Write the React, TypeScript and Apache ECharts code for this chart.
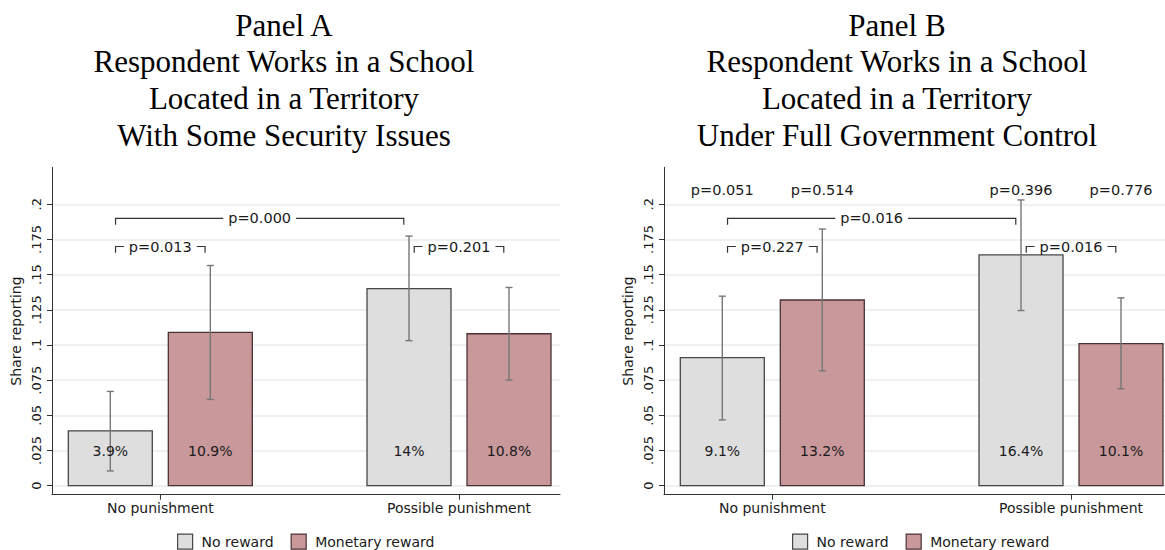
import React, { useEffect, useRef } from "react";
import * as echarts from "echarts";

// ---------- data ----------
const categories = ["No punishment", "Possible punishment"];
const seriesNames = ["No reward", "Monetary reward"];

const yTicks = [0, 0.025, 0.05, 0.075, 0.1, 0.125, 0.15, 0.175, 0.2];
const yTickLabels = ["0", ".025", ".05", ".075", ".1", ".125", ".15", ".175", ".2"];
const yAxisTitle = "Share reporting";

const panelATitle = ["Panel A", "Respondent Works in a School", "Located in a Territory", "With Some Security Issues"];
const panelBTitle = ["Panel B", "Respondent Works in a School", "Located in a Territory", "Under Full Government Control"];

// Panel A
const panelANoReward = [0.039, 0.14];
const panelAMonetary = [0.109, 0.108];
const panelANoRewardLow = [0.0105, 0.1031];
const panelANoRewardHigh = [0.067, 0.1774];
const panelAMonetaryLow = [0.0613, 0.0751];
const panelAMonetaryHigh = [0.1565, 0.1409];
const panelABracketLabels = ["p=0.000", "p=0.013", "p=0.201"];

// Panel B
const panelBNoReward = [0.091, 0.164];
const panelBMonetary = [0.132, 0.101];
const panelBNoRewardLow = [0.0468, 0.1245];
const panelBNoRewardHigh = [0.1347, 0.2031];
const panelBMonetaryLow = [0.0817, 0.0689];
const panelBMonetaryHigh = [0.1824, 0.1335];
const panelBBracketLabels = ["p=0.016", "p=0.227", "p=0.016"];
const panelBTopLabels = ["p=0.051", "p=0.514", "p=0.396", "p=0.776"];

// bracket structure (bar index = group*2 + series)
const bracketFrom = [0, 0, 2];
const bracketTo = [2, 1, 3];
const bracketLevels = [0.19, 0.17, 0.17];

// ---------- layout / style ----------
const FONT = '"DejaVu Sans", sans-serif';
const SERIF = '"Liberation Serif", serif';
const X_MIN = 0.6374;
const X_MAX = 2.3381;
const Y_MIN = -0.0064;
const Y_MAX = 0.2263;
const BAR_OFFSET = 0.1674;
const BAR_HALF = 0.1406;
const BRACKET_INSET = 0.0175;
const LABEL_Y = 0.025;
const TOP_P_Y = 0.21;
const GRID_TOP = 167.3;
const GRID_H = 327.4;
const GRID_W = 508;
const PANEL_LEFT = [52, 664];
const TITLE_X = [284, 897];
const TITLE_Y = [25, 61.7, 98.3, 135];
const LEGEND_LEFT = [177, 792];

const FILLS = ["#dedede", "#c8989b"];
const BORDERS = ["#474747", "#4a3234"];
const AXIS = "#333333";
const ERR = "#767676";
const TEXT = "#1a1a1a";

function barX(k: number) {
  const g = Math.floor(k / 2) + 1;
  const s = k % 2 === 0 ? -1 : 1;
  return g + s * BAR_OFFSET;
}

function tickLabel(v: number) {
  for (let i = 0; i < yTicks.length; i++) if (Math.abs(yTicks[i] - v) < 1e-9) return yTickLabels[i];
  return "";
}

function buildPanel(
  p: number,
  noReward: number[],
  monetary: number[],
  lows: number[][],
  highs: number[][],
  bracketLabels: string[],
  topLabels: string[] | null
) {
  const vals = [noReward, monetary];
  const series: any[] = [];
  [0, 1].forEach((s) => {
    series.push({
      type: "custom",
      name: seriesNames[s],
      xAxisIndex: p,
      yAxisIndex: p,
      itemStyle: { color: FILLS[s], borderColor: BORDERS[s], borderWidth: 1.3 },
      data: vals[s].map((v, g) => [g + 1 + (s === 0 ? -1 : 1) * BAR_OFFSET, v]),
      renderItem: (params: any, api: any) => {
        const c = api.value(0);
        const v = api.value(1);
        const p0 = api.coord([c - BAR_HALF, v]);
        const p1 = api.coord([c + BAR_HALF, 0]);
        return {
          type: "rect",
          shape: { x: p0[0], y: p0[1], width: p1[0] - p0[0], height: p1[1] - p0[1] },
          style: { fill: FILLS[s], stroke: BORDERS[s], lineWidth: 1.3 },
        };
      },
      z: 2,
    });
  });
  // error bars
  const errData: number[][] = [];
  for (let k = 0; k < 4; k++) {
    const g = Math.floor(k / 2);
    const s = k % 2;
    errData.push([barX(k), lows[s][g], highs[s][g]]);
  }
  series.push({
    type: "custom",
    name: "ci",
    xAxisIndex: p,
    yAxisIndex: p,
    data: errData,
    z: 3,
    renderItem: (params: any, api: any) => {
      const x = api.value(0);
      const a = api.coord([x, api.value(1)]);
      const b = api.coord([x, api.value(2)]);
      const st = { stroke: ERR, lineWidth: 1.4 };
      const cap = 3.5;
      return {
        type: "group",
        children: [
          { type: "line", shape: { x1: a[0], y1: a[1], x2: b[0], y2: b[1] }, style: st },
          { type: "line", shape: { x1: a[0] - cap, y1: a[1], x2: a[0] + cap, y2: a[1] }, style: st },
          { type: "line", shape: { x1: b[0] - cap, y1: b[1], x2: b[0] + cap, y2: b[1] }, style: st },
        ],
      };
    },
  });
  // bar labels
  const labData: number[][] = [];
  for (let k = 0; k < 4; k++) {
    const g = Math.floor(k / 2);
    const s = k % 2;
    labData.push([barX(k), vals[s][g]]);
  }
  series.push({
    type: "custom",
    name: "labels",
    xAxisIndex: p,
    yAxisIndex: p,
    data: labData,
    z: 4,
    renderItem: (params: any, api: any) => {
      const pt = api.coord([api.value(0), LABEL_Y]);
      const v = api.value(1);
      return {
        type: "text",
        x: pt[0],
        y: pt[1],
        style: {
          text: `${+(v * 100).toFixed(1)}%`,
          font: `14px ${FONT}`,
          fill: TEXT,
          align: "center",
          verticalAlign: "middle",
        },
      };
    },
  });
  // brackets
  series.push({
    type: "custom",
    name: "brackets",
    xAxisIndex: p,
    yAxisIndex: p,
    data: bracketFrom.map((f, i) => [barX(f) + BRACKET_INSET, barX(bracketTo[i]) - BRACKET_INSET, bracketLevels[i]]),
    z: 5,
    renderItem: (params: any, api: any) => {
      const l = api.coord([api.value(0), api.value(2)]);
      const r = api.coord([api.value(1), api.value(2)]);
      const drop = 6.3;
      return {
        type: "group",
        children: [
          {
            type: "polyline",
            shape: { points: [[l[0], l[1] + drop], [l[0], l[1]], [r[0], r[1]], [r[0], r[1] + drop]] },
            style: { stroke: AXIS, lineWidth: 1.2, fill: null },
          },
          {
            type: "text",
            x: (l[0] + r[0]) / 2,
            y: l[1],
            z2: 10,
            style: {
              text: bracketLabels[params.dataIndex],
              font: `14.5px ${FONT}`,
              fill: TEXT,
              align: "center",
              verticalAlign: "middle",
              backgroundColor: "#ffffff",
              padding: [0, 5],
              lineHeight: 10,
            },
          },
        ],
      };
    },
  });
  if (topLabels) {
    series.push({
      type: "custom",
      name: "toplabels",
      xAxisIndex: p,
      yAxisIndex: p,
      data: [0, 1, 2, 3].map((k) => [barX(k), TOP_P_Y]),
      z: 5,
      renderItem: (params: any, api: any) => {
        const pt = api.coord([api.value(0), api.value(1)]);
        return {
          type: "text",
          x: pt[0],
          y: pt[1],
          style: {
            text: topLabels[params.dataIndex],
            font: `14.5px ${FONT}`,
            fill: TEXT,
            align: "center",
            verticalAlign: "middle",
          },
        };
      },
    });
  }
  return series;
}

export default function App() {
  const ref = useRef<HTMLDivElement>(null);
  useEffect(() => {
    document.body.style.margin = "0";
    const chart = echarts.init(ref.current as HTMLDivElement, null, { renderer: "svg" });
    const grids = PANEL_LEFT.map((left) => ({
      left,
      top: GRID_TOP,
      width: GRID_W,
      height: GRID_H,
      containLabel: false,
      outerBoundsMode: "none",
    }));
    const xAxes = [0, 1].map((i) => ({
      type: "value",
      gridIndex: i,
      min: X_MIN,
      max: X_MAX,
      axisLine: { show: true, onZero: false, lineStyle: { color: AXIS, width: 1 } },
      axisTick: { show: true, length: 5, customValues: [1, 2], lineStyle: { color: AXIS, width: 1 } },
      axisLabel: {
        customValues: [1, 2],
        formatter: (v: number) => categories[Math.round(v) - 1] || "",
        margin: 6,
        fontSize: 14,
        fontFamily: FONT,
        color: TEXT,
      },
      splitLine: { show: false },
    }));
    const yAxes = [0, 1].map((i) => ({
      type: "value",
      gridIndex: i,
      min: Y_MIN,
      max: Y_MAX,
      name: yAxisTitle,
      nameLocation: "middle",
      nameRotate: 90,
      nameGap: 29,
      nameTextStyle: { fontSize: 14, fontFamily: FONT, color: TEXT },
      axisLine: { show: true, onZero: false, lineStyle: { color: AXIS, width: 1 } },
      axisTick: { show: true, length: 5, customValues: yTicks, lineStyle: { color: AXIS, width: 1 } },
      axisLabel: {
        customValues: yTicks,
        rotate: 90,
        margin: 9,
        formatter: (v: number) => tickLabel(v),
        fontSize: 13,
        fontFamily: FONT,
        color: TEXT,
      },
      splitLine: { show: true, lineStyle: { color: "#ebebeb", width: 1.5 } },
    }));
    const legendData = seriesNames.map((n, s) => ({
      name: n,
      icon: "rect",
      itemStyle: { color: FILLS[s], borderColor: BORDERS[s], borderWidth: 1.2 },
    }));
    const legends = LEGEND_LEFT.map((left) => ({
      left,
      top: 533.5,
      padding: 0,
      orient: "horizontal",
      itemWidth: 15,
      itemHeight: 15,
      itemGap: 17,
      selectedMode: false,
      data: legendData,
      textStyle: { fontSize: 14, fontFamily: FONT, color: TEXT, padding: [0, 0, 0, 4] },
    }));
    const graphic: any[] = [];
    [panelATitle, panelBTitle].forEach((lines, p) => {
      lines.forEach((t, i) => {
        graphic.push({
          type: "text",
          x: TITLE_X[p],
          y: TITLE_Y[i],
          style: { text: t, font: `31px ${SERIF}`, fill: "#000", align: "center", verticalAlign: "middle" },
        });
      });
    });
    const series = [
      ...buildPanel(
        0,
        panelANoReward,
        panelAMonetary,
        [panelANoRewardLow, panelAMonetaryLow],
        [panelANoRewardHigh, panelAMonetaryHigh],
        panelABracketLabels,
        null
      ),
      ...buildPanel(
        1,
        panelBNoReward,
        panelBMonetary,
        [panelBNoRewardLow, panelBMonetaryLow],
        [panelBNoRewardHigh, panelBMonetaryHigh],
        panelBBracketLabels,
        panelBTopLabels
      ),
    ];
    chart.setOption({
      animation: false,
      backgroundColor: "#ffffff",
      grid: grids,
      xAxis: xAxes,
      yAxis: yAxes,
      legend: legends,
      graphic,
      tooltip: { show: false },
      series,
    });
    return () => chart.dispose();
  }, []);
  return <div ref={ref} style={{ width: 1165, height: 550 }} />;
}
